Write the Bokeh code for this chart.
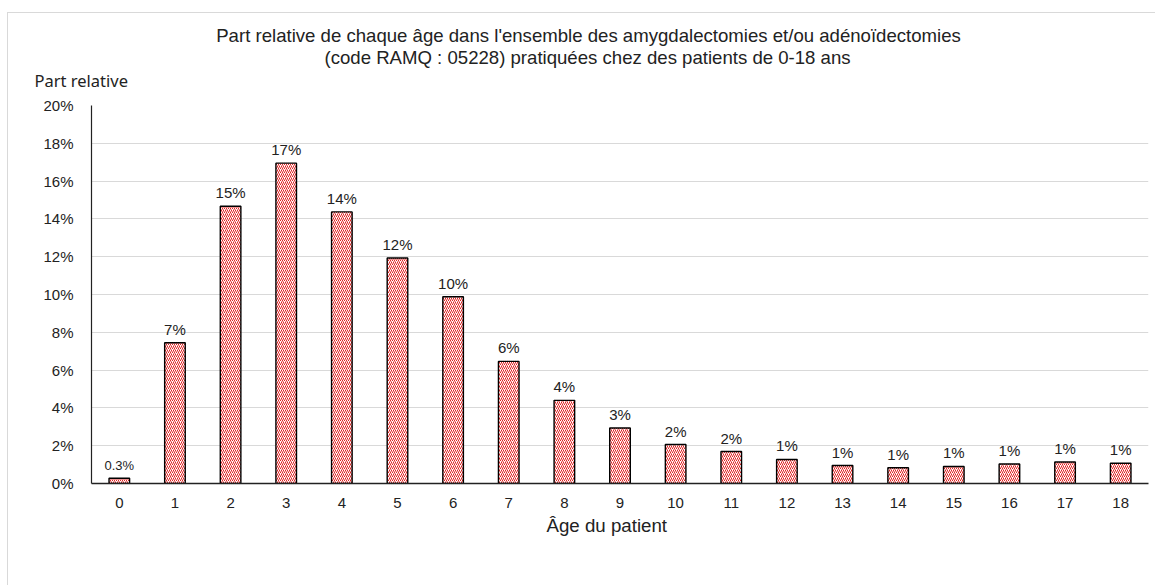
from bokeh.plotting import figure
from bokeh.models import Range1d, FixedTicker, ColumnDataSource, Title
from bokeh.embed import file_html
from bokeh.resources import INLINE
from bokeh.core.properties import value

# ---- data ----
ages = list(range(19))
shares = [0.28, 7.45, 14.67, 16.95, 14.37, 11.93, 9.88, 6.46, 4.40, 2.94,
          2.06, 1.69, 1.27, 0.95, 0.83, 0.90, 1.03, 1.14, 1.07]
y_ticks = [0, 2, 4, 6, 8, 10, 12, 14, 16, 18, 20]
y_tick_labels = [f"{t}%" for t in y_ticks]
x_tick_labels = [str(a) for a in ages]
title_lines = ["Part relative de chaque âge dans l'ensemble des amygdalectomies et/ou adénoïdectomies",
               "(code RAMQ : 05228) pratiquées chez des patients de 0-18 ans"]
y_title = "Part relative"
x_title = "Âge du patient"

bar_labels = [f"{v:.0f}%" if v >= 0.5 else f"{v:.1f}%" for v in shares]
label_sizes = ["15px" if v >= 0.5 else "13px" for v in shares]

FONT = "Liberation Sans"

p = figure(width=1148, height=573, output_backend="svg", toolbar_location=None,
           x_range=Range1d(-0.5, 18.5), y_range=Range1d(0, 20),
           min_border_left=83, min_border_right=8, min_border_top=92,
           min_border_bottom=103)
p.margin = (12, 0, 0, 7)
p.styles = {"border-left": "1px solid #d9d9d9", "border-top": "1px solid #d9d9d9"}
p.outline_line_color = None
p.background_fill_color = "white"
p.border_fill_color = "white"

src = ColumnDataSource(dict(x=ages, top=shares, lab=bar_labels, fs=label_sizes))
p.vbar(x="x", top="top", width=0.37, bottom=0, source=src,
       fill_color="white", hatch_pattern="right_diagonal_line", hatch_color="#e02020",
       hatch_scale=4, hatch_weight=1, line_color="black", line_width=1.4)
p.text(x="x", y="top", text="lab", source=src, text_align="center",
       text_baseline="bottom", y_offset=-5, text_font=value(FONT),
       text_font_size="fs", text_color="#222222")

# axes
p.yaxis.ticker = FixedTicker(ticks=y_ticks)
p.yaxis.major_label_overrides = {t: l for t, l in zip(y_ticks, y_tick_labels)}
p.xaxis.ticker = FixedTicker(ticks=ages)
p.xaxis.major_label_overrides = {a: l for a, l in zip(ages, x_tick_labels)}
for ax in (p.xaxis, p.yaxis):
    ax.major_tick_line_color = None
    ax.minor_tick_line_color = None
    ax.major_label_text_font = FONT
    ax.major_label_text_font_size = "15px"
    ax.major_label_text_color = "#222222"
p.yaxis.axis_line_color = "#222222"
p.yaxis.axis_line_width = 1.2
p.xaxis.axis_line_color = "#222222"
p.xaxis.axis_line_width = 1.5
p.yaxis.major_label_standoff = 12
p.xaxis.major_label_standoff = 8

p.xgrid.grid_line_color = None
p.ygrid.ticker = FixedTicker(ticks=y_ticks)
p.ygrid.grid_line_color = "#d9d9d9"
p.ygrid.grid_line_width = 1

# titles (added nearest-first); first one is a blank spacer
p.add_layout(Title(text=" ", align="left", standoff=2,
                   text_font=FONT, text_font_size="10px",
                   text_font_style="normal", text_color="white"), "above")
p.add_layout(Title(text=y_title, align="left", offset=-57, standoff=-2,
                   text_font="Noto Sans", text_font_size="16.5px",
                   text_font_style="normal", text_color="#222222"), "above")
p.add_layout(Title(text=title_lines[1], align="left", offset=233, standoff=0,
                   text_font=FONT, text_font_size="18.6px",
                   text_font_style="normal", text_color="#222222"), "above")
p.add_layout(Title(text=title_lines[0], align="left", offset=124.7, standoff=-3,
                   text_font=FONT, text_font_size="18.6px",
                   text_font_style="normal", text_color="#222222"), "above")
p.add_layout(Title(text=x_title, align="left", offset=455, standoff=4,
                   text_font=FONT, text_font_size="18.7px",
                   text_font_style="normal", text_color="#222222"), "below")

open("out.html", "w").write(file_html(p, INLINE))
